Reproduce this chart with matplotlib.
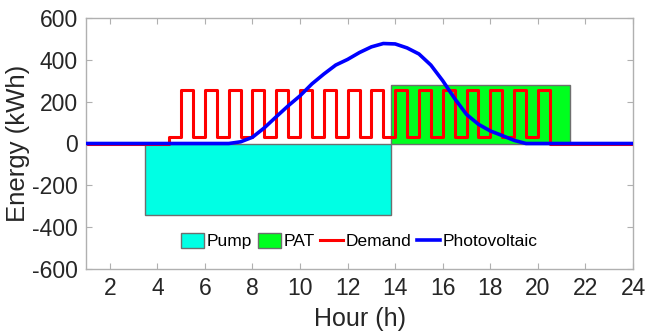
import numpy as np
import matplotlib
matplotlib.use("Agg")
import matplotlib.pyplot as plt

plt.rcParams['font.family'] = ['Liberation Sans', 'DejaVu Sans']

# ---- data ----
demand_hours = np.arange(1.0, 24.01, 0.5)
demand_values = [0, 0, 0, 0, 0, 0, 0, 32,
                 255, 32, 255, 32, 255, 32, 255, 32, 255, 32, 255, 32,
                 255, 32, 255, 32, 255, 32, 255, 32, 255, 32, 255, 32,
                 255, 32, 255, 32, 255, 32, 255,
                 0, 0, 0, 0, 0, 0, 0, 0]

pv_hours = [1, 2, 3, 4, 5, 6, 7.0, 7.5, 8.0, 8.5, 9.0, 9.5, 10.0, 10.5, 11.0,
            11.5, 12.0, 12.5, 13.0, 13.5, 14.0, 14.5, 15.0, 15.5, 16.0, 16.5,
            17.0, 17.5, 18.0, 18.5, 19.0, 19.5, 20, 21, 22, 23, 24]
pv_values = [0, 0, 0, 0, 0, 0, 0, 8, 30, 75, 128, 180, 228, 285, 332,
             375, 402, 435, 462, 478, 476, 457, 428, 375, 300, 215,
             139, 92, 60, 38, 15, 0, 0, 0, 0, 0, 0]

pump_start, pump_end, pump_value = 3.5, 13.83, -340
pat_start, pat_end, pat_value = 13.83, 21.35, 280

xticks = [2, 4, 6, 8, 10, 12, 14, 16, 18, 20, 22, 24]
yticks = [-600, -400, -200, 0, 200, 400, 600]

# ---- figure ----
fig = plt.figure(figsize=(6.47, 3.31), dpi=100)
ax = fig.add_axes([86/647, 1 - 269/331, (633 - 86)/647, (269 - 18)/331])

edge = '#6e6e6e'
h_pump = ax.bar([pump_start], [pump_value], width=[pump_end - pump_start], align='edge',
                color='#00FFE4', edgecolor=edge, linewidth=1.0, label='Pump', zorder=1)
h_pat = ax.bar([pat_start], [pat_value], width=[pat_end - pat_start], align='edge',
               color='#00FF1E', edgecolor=edge, linewidth=1.0, label='PAT', zorder=1)
h_dem, = ax.plot(demand_hours, demand_values, drawstyle='steps-post', color='#FF0000',
                 linewidth=2.2, label='Demand', zorder=2)
h_pv, = ax.plot(pv_hours, pv_values, color='#0000FF', linewidth=2.6,
                label='Photovoltaic', zorder=3)

ax.set_xlim(1, 24)
ax.set_ylim(-600, 600)
ax.set_xticks(xticks)
ax.set_yticks(yticks)
ax.set_xticklabels([str(t) for t in xticks])
ax.set_yticklabels([str(t) for t in yticks])

axcol = '#b0b0b0'
for s in ax.spines.values():
    s.set_color(axcol)
    s.set_linewidth(1.0)
ax.tick_params(direction='in', top=True, right=True, length=4, width=0.8,
               color=axcol, labelsize=16.5, labelcolor='#262626', pad=6)

ax.set_xlabel('Hour (h)', fontsize=18, color='#262626', labelpad=5)
ax.set_ylabel('Energy (kWh)', fontsize=18.5, color='#262626', labelpad=1)

leg = ax.legend([h_pump, h_pat, h_dem, h_pv], ['Pump', 'PAT', 'Demand', 'Photovoltaic'],
                loc='center', bbox_to_anchor=(0.50, 0.11), ncol=4, frameon=False,
                fontsize=12.5, handlelength=1.3, handleheight=0.9,
                handletextpad=0.15, columnspacing=0.35, borderpad=0.2)
for t in leg.get_texts():
    t.set_color('#000000')

fig.savefig('out.png', dpi=100)
